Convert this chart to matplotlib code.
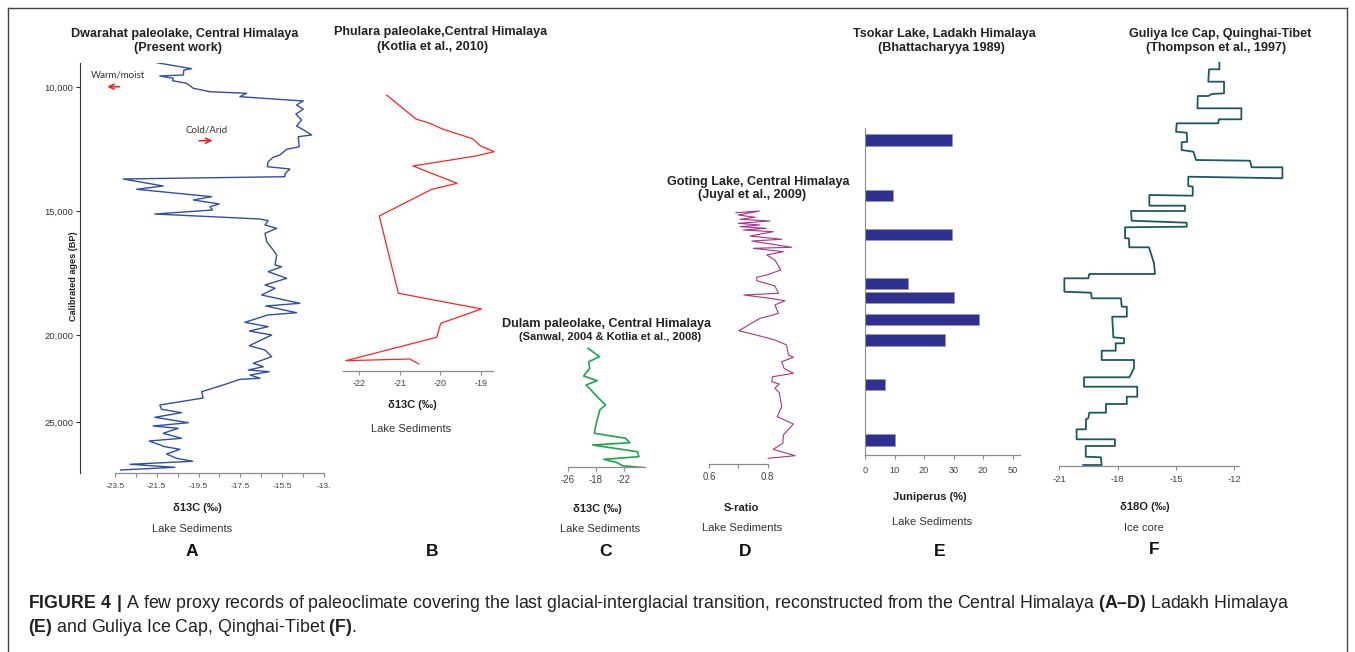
import numpy as np
import matplotlib
matplotlib.use("Agg")
import matplotlib.pyplot as plt
from matplotlib.ticker import NullLocator

plt.rcParams['font.family'] = ['Liberation Sans', 'DejaVu Sans']
plt.rcParams['axes.unicode_minus'] = False
plt.rcParams['mathtext.fontset'] = 'custom'
plt.rcParams['mathtext.rm'] = 'Liberation Sans'
plt.rcParams['mathtext.bf'] = 'Liberation Sans:bold'

W, H = 1355, 652

# A: Dwarahat paleolake, d13C vs calibrated age (BP)
a_age = [9020, 9262, 9315, 9516, 9557, 9649, 9746, 9851, 10052, 10190,
         10254, 10391, 10564, 10726, 10899, 11089, 11331, 11572, 11762, 11935,
         12004, 12407, 12512, 12742, 12834, 13012, 13213, 13306, 13508, 13617,
         13709, 13992, 14125, 14423, 14556, 14717, 14826, 14960, 15121, 15323,
         15391, 15564, 15698, 15899, 16238, 16572, 16774, 17177, 17246, 17447,
         17714, 17984, 18117, 18387, 18722, 18830, 19101, 19193, 19488, 19665,
         19839, 20000, 20615, 20862, 21247, 21626, 21822, 22011, 22109, 22299,
         22488, 22546, 22873, 23258, 23621, 24023, 24270, 24466, 24730, 25040,
         25230, 25362, 25649, 25937, 26092, 26419, 26569, 26839, 27086, 27258,
         27431, 27603, 27758]
a_d13c = [-21.5, -19.83, -20.2, -20.23, -21.35, -20.71, -20.74, -20.07, -19.75, -18.95,
          -17.2, -17.52, -14.49, -14.81, -14.49, -14.84, -14.57, -14.81, -14.41, -14.09,
          -14.73, -14.68, -15.28, -15.61, -15.93, -16.17, -16.21, -15.13, -15.37, -15.37,
          -23.1, -21.19, -22.46, -18.87, -19.75, -18.51, -18.95, -18.83, -21.59, -16.56,
          -16.17, -16.32, -15.76, -16.32, -16.24, -15.93, -15.76, -15.84, -15.52, -16.17,
          -15.28, -16.32, -15.84, -16.48, -14.65, -16.28, -14.81, -16.19, -17.28, -16.17,
          -17.07, -16.0, -17.07, -16.32, -16.0, -16.88, -16.4, -17.12, -16.12, -17.04,
          -16.56, -17.52, -18.32, -19.35, -19.28, -21.35, -21.27, -20.31, -21.59, -19.99,
          -21.67, -20.47, -21.19, -20.31, -21.86, -21.11, -20.39, -21.03, -20.55, -19.78,
          -22.78, -20.63, -23.23]
a_xticks = [-23.5, -22.5, -21.5, -20.5, -19.5, -18.5, -17.5, -16.5, -15.5, -14.5, -13.5]
a_xlabels = ['-23.5', '', '-21.5', '', '-19.5', '', '-17.5', '', '-15.5', '', '-13.']
a_yticks = [10000, 15000, 20000, 25000]
a_ylabels = ['10,000', '15,000', '20,000', '25,000']

# B: Phulara paleolake
b_age = [10323, 11290, 11464, 11706, 12085, 12379, 12609, 12782, 13185, 13883,
         14125, 15202, 18318, 18951, 19528, 20132, 21477, 21379, 21667]
b_d13c = [-21.32, -20.60, -20.26, -19.93, -19.21, -19.01, -18.68, -19.13, -20.67, -19.59,
          -20.21, -21.50, -21.03, -18.99, -19.99, -20.09, -22.32, -20.75, -20.53]
b_xticks = [-22, -21, -20, -19]

# C: Dulam paleolake
c_age = [20764, 21247, 21534, 21914, 22356, 22626, 22874, 23121, 23546, 24023, 24310,
         25270, 25649, 25937, 26190, 26322, 26707, 26994, 27144, 27339, 27511, 27626]
c_d13c = [-23.11, -21.48, -23.02, -22.88, -23.75, -21.81, -23.4, -22.78, -21.81, -20.61, -21.43,
          -22.05, -22.2, -17.72, -17.1, -22.45, -16.03, -15.8, -20.86, -18.92, -18.2, -15.08]
c_xticks = [-26, -22, -18]
c_xlabels = ['-26', '-18', '-22']

# D: Goting Lake, S-ratio
d_age = [15069, 15000, 15161, 15254, 15335, 15403, 15496, 15564, 15633, 15698,
         15766, 15835, 16008, 16141, 16210, 16464, 16504, 16641, 16774, 16976,
         17379, 17580, 17673, 17810, 18024, 18318, 18387, 18520, 18617, 18790,
         19125, 19262, 19326, 19827, 20057, 20287, 20575, 21149, 21282, 21534,
         21914, 22201, 22397, 22684, 22816, 23063, 23316, 24120, 24695, 25115,
         25747, 26224, 26569, 26937, 27086]
d_sratio = [0.692, 0.772, 0.700, 0.757, 0.706, 0.808, 0.700, 0.774, 0.706, 0.795,
            0.717, 0.819, 0.740, 0.848, 0.746, 0.882, 0.751, 0.854, 0.797, 0.825,
            0.845, 0.797, 0.763, 0.763, 0.825, 0.837, 0.719, 0.808, 0.859, 0.825,
            0.837, 0.797, 0.774, 0.702, 0.774, 0.825, 0.865, 0.871, 0.888, 0.848,
            0.856, 0.888, 0.817, 0.814, 0.840, 0.825, 0.840, 0.848, 0.833, 0.888,
            0.854, 0.852, 0.819, 0.894, 0.802]
d_xticks = [0.6, 0.7, 0.8]
d_xlabels = ['0.6', '', '0.8']

# E: Tsokar Lake, Juniperus pollen
e_age = [12137, 14367, 15947, 17935, 18476, 19363, 20287, 22845, 26034]
e_juniperus = [29.6, 9.4, 29.3, 14.7, 30.3, 38.5, 27.1, 6.9, 10.3]
e_xticks = [0, 10, 20, 30, 40, 50]
e_xlabels = ['0', '10', '20', '30', '20', '50']

# F: Guliya ice core d18O (stepped record)
f_age = [9020, 9286, 9286, 9786, 9786, 10254, 10282, 10363, 10363, 10859,
         10859, 11302, 11302, 11464, 11464, 11802, 11843, 12206, 12230, 12540,
         12609, 12943, 12972, 13238, 13238, 13681, 13617, 13992, 14020, 14383,
         14355, 14786, 14786, 15000, 15000, 15391, 15472, 15633, 15657, 16101,
         16101, 16464, 16464, 17109, 17540, 17540, 17714, 17714, 18254, 18294,
         18520, 18520, 18859, 18859, 19262, 19262, 20132, 20190, 20477, 20477,
         20902, 20902, 21437, 21437, 21914, 22431, 22431, 22971, 22971, 23546,
         23546, 23965, 23965, 24465, 24465, 24787, 24845, 25420, 25420, 25994,
         25994, 26379, 26379, 26994, 27029, 27471, 27471]
f_d18o = [-12.77, -12.77, -13.30, -13.34, -12.53, -12.53, -13.16, -13.34, -13.88, -13.90,
          -11.64, -11.64, -12.79, -12.83, -14.96, -15.0, -14.45, -14.42, -14.71, -14.71,
          -14.11, -13.97, -11.20, -11.11, -9.53, -9.53, -14.37, -14.37, -14.14, -14.14,
          -16.37, -16.37, -14.54, -14.54, -17.31, -17.28, -14.45, -14.45, -17.62, -17.62,
          -17.42, -17.40, -16.39, -16.13, -16.08, -19.46, -19.51, -20.74, -20.74, -19.37,
          -19.33, -17.83, -17.79, -17.53, -17.53, -18.28, -18.22, -17.67, -17.67, -18.10,
          -18.10, -18.82, -18.82, -17.16, -17.16, -17.40, -19.73, -19.73, -16.99, -16.99,
          -17.53, -17.53, -18.60, -18.60, -19.46, -19.51, -19.63, -19.63, -20.11, -20.11,
          -18.14, -18.14, -19.64, -19.64, -18.86, -18.82, -19.77]
f_xticks = [-21, -18, -15, -12]

# the age axis of the original is not linear: tick ages -> pixel rows
KNOT_AGE = [0, 10000, 15000, 20000, 25000, 40000]
KNOT_PX = [-161, 87, 211, 335, 422, 683]


def fwd(a):
    return np.interp(a, KNOT_AGE, KNOT_PX)


def inv(p):
    return np.interp(p, KNOT_PX, KNOT_AGE)


fig = plt.figure(figsize=(W / 100, H / 100), dpi=100)


def add_ax(x0, y0, x1, y1):
    # axes placed in pixel coords (from top left), y axis = age
    ax = fig.add_axes([x0 / W, 1 - y1 / H, (x1 - x0) / W, (y1 - y0) / H])
    ax.set_yscale('function', functions=(fwd, inv))
    ax.set_ylim(inv(y1), inv(y0))
    ax.patch.set_visible(False)
    for s in ['top', 'right']:
        ax.spines[s].set_visible(False)
    ax.spines['bottom'].set_color('#8c8c8c')
    ax.spines['bottom'].set_linewidth(0.9)
    ax.tick_params(axis='x', colors='#8c8c8c', labelcolor='#444444',
                   length=3, width=0.8, pad=2)
    ax.xaxis.set_minor_locator(NullLocator())
    ax.yaxis.set_minor_locator(NullLocator())
    return ax


def hide_left(ax):
    ax.spines['left'].set_visible(False)
    ax.tick_params(axis='y', which='both', left=False, labelleft=False)


def text(x, y, s, **kw):
    kw.setdefault('ha', 'center')
    kw.setdefault('va', 'center')
    return fig.text(x / W, 1 - y / H, s, **kw)


# ---- A
axA = add_ax(80, 63, 330, 473)
axA.plot(a_d13c, a_age, color='#2f4ea6', lw=1.0)
axA.set_xlim(-25.17, -13.21)
axA.spines['bottom'].set_bounds(-23.5, -13.5)
axA.set_xticks(a_xticks)
axA.set_xticklabels(a_xlabels)
axA.tick_params(axis='x', labelsize=6, pad=4)
axA.set_yticks(a_yticks)
axA.set_yticklabels(a_ylabels)
axA.spines['left'].set_color('#333333')
axA.tick_params(axis='y', colors='#333333', labelsize=6.8, length=3, width=0.8, pad=2)
axA.text(-23.36, 9516, 'Warm/moist', family=['Lato', 'DejaVu Sans'], fontsize=7,
         ha='center', va='center', color='#333333')
axA.annotate('', xy=(-24.0, 9988), xytext=(-23.15, 9988),
             arrowprops=dict(arrowstyle='->', color='#ee2222', lw=1.2, mutation_scale=9))
axA.text(-19.1, 11734, 'Cold/Arid', family=['Lato', 'DejaVu Sans'], fontsize=7,
         ha='center', va='center', color='#333333')
axA.annotate('', xy=(-18.7, 12165), xytext=(-19.6, 12165),
             arrowprops=dict(arrowstyle='->', color='#ee2222', lw=1.2, mutation_scale=9))
text(73, 276, 'Calibrated ages (BP)', rotation=90, fontsize=6.6, weight='bold', color='#222222')

# ---- B
axB = add_ax(343, 85, 505.5, 371)
axB.plot(b_d13c, b_age, color='#ff2222', lw=0.9)
axB.set_xlim(-22.39, -18.4)
axB.spines['bottom'].set_bounds(-22.39, -18.71)
axB.set_xticks(b_xticks)
axB.tick_params(axis='x', labelsize=6.5, pad=3)
hide_left(axB)

# ---- C
axC = add_ax(568, 340, 648, 467)
axC.plot(c_d13c, c_age, color='#1ea64c', lw=1.2)
axC.set_xlim(-26, -14.5)
axC.spines['bottom'].set_bounds(-26, -14.95)
axC.set_xticks(c_xticks)
axC.set_xticklabels(c_xlabels)
axC.tick_params(axis='x', labelsize=7, pad=3)
hide_left(axC)

# ---- D
axD = add_ax(709, 205, 800, 464)
axD.plot(d_sratio, d_age, color='#a8348a', lw=0.8)
axD.set_xlim(0.6, 0.9106)
axD.spines['bottom'].set_bounds(0.6, 0.8)
axD.set_xticks(d_xticks)
axD.set_xticklabels(d_xlabels)
axD.tick_params(axis='x', labelsize=7, pad=3)
hide_left(axD)

# ---- E
axE = add_ax(865, 128, 1020, 455)
for age, val in zip(e_age, e_juniperus):
    lo = inv(fwd(age) - 5.7)
    hi = inv(fwd(age) + 5.7)
    axE.barh(lo, val, height=hi - lo, align='edge', color='#2e3192',
             edgecolor='#9a9a9a', linewidth=0.6)
axE.set_xlim(0, 52.5)
axE.set_xticks(e_xticks)
axE.set_xticklabels(e_xlabels)
axE.tick_params(axis='x', labelsize=6.6, pad=5)
axE.spines['left'].set_color('#8c8c8c')
axE.tick_params(axis='y', which='both', left=False, labelleft=False)

# ---- F
axF = add_ax(1059.3, 60, 1292.7, 465.7)
axF.plot(f_d18o, f_age, color='#1b5866', lw=1.3)
axF.set_xlim(-21, -9.0)
axF.spines['bottom'].set_bounds(-21, -11.75)
axF.set_xticks(f_xticks)
axF.tick_params(axis='x', labelsize=6.8, pad=4)
hide_left(axF)

# ---- titles
tkw = dict(fontsize=9.1, weight='bold', color='#222222')
text(185, 34, 'Dwarahat paleolake, Central Himalaya', **tkw)
text(178, 48, '(Present work)', **tkw)
text(441, 32.5, 'Phulara paleolake,Central Himalaya', **tkw)
text(433, 47, '(Kotlia et al., 2010)', **tkw)
text(606, 323.5, 'Dulam paleolake, Central Himalaya', **tkw)
text(610, 337, '(Sanwal, 2004 & Kotlia et al., 2008)', fontsize=8, weight='bold', color='#222222')
text(758, 181.5, 'Goting Lake, Central Himalaya', **tkw)
text(752, 195, '(Juyal et al., 2009)', **tkw)
text(944, 34, 'Tsokar Lake, Ladakh Himalaya', **tkw)
text(941, 48.5, '(Bhattacharyya 1989)', **tkw)
text(1220, 33.5, 'Guliya Ice Cap, Quinghai-Tibet', **tkw)
text(1216, 48, '(Thompson et al., 1997)', **tkw)

# ---- labels under the panels
xkw = dict(fontsize=8, weight='bold', color='#222222')
skw = dict(fontsize=8, color='#333333')
pkw = dict(fontsize=12.5, weight='bold', color='#111111')
text(197, 508, 'δ13C (‰)', **xkw)
text(192, 529, 'Lake Sediments', **skw)
text(192, 552, 'A', **pkw)
text(412, 405, 'δ13C (‰)', **xkw)
text(411, 429, 'Lake Sediments', **skw)
text(432, 551, 'B', **pkw)
text(597, 509, 'δ13C (‰)', **xkw)
text(600, 529, 'Lake Sediments', **skw)
text(606, 551, 'C', **pkw)
text(741, 508, 'S-ratio', **xkw)
text(742, 528, 'Lake Sediments', **skw)
text(745, 551, 'D', **pkw)
text(930, 497, 'Juniperus (%)', **xkw)
text(932, 522, 'Lake Sediments', **skw)
text(940, 551, 'E', **pkw)
text(1145, 507, 'δ18O (‰)', **xkw)
text(1144, 528, 'Ice core', **skw)
text(1154, 550, 'F', **pkw)

# ---- caption
ckw = dict(ha='left', fontsize=12.8, color='#231f20')
text(28, 604, r'$\mathbf{FIGURE\ 4\ |}$ A few proxy records of paleoclimate covering the last '
     r'glacial-interglacial transition, reconstructed from the Central Himalaya '
     r'$\mathbf{(A–D)}$ Ladakh Himalaya', **ckw)
text(28, 628, r'$\mathbf{(E)}$ and Guliya Ice Cap, Qinghai-Tibet $\mathbf{(F)}$.', **ckw)

# ---- frame around the figure
for xs, ys in [([8, 8], [8, 660]), ([8, 1347], [8, 8]), ([1347, 1347], [8, 660])]:
    fig.add_artist(plt.Line2D([x / W for x in xs], [1 - y / H for y in ys],
                              color='#444444', lw=1.0, transform=fig.transFigure))

fig.savefig('out.png', dpi=100)
